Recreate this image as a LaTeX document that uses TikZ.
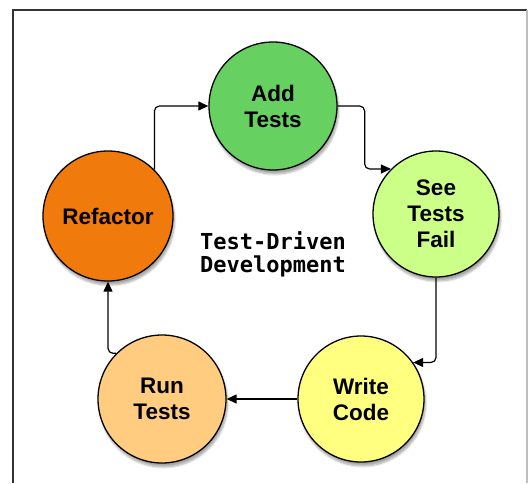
\documentclass[tikz,border=0pt]{standalone}
\usepackage{fontspec}
\setmainfont{Liberation Sans}
\setmonofont{DejaVu Sans Mono}
\usetikzlibrary{arrows.meta,shadows.blur}
\definecolor{addc}{RGB}{102,208,96}
\definecolor{failc}{RGB}{204,255,136}
\definecolor{refc}{RGB}{240,122,12}
\definecolor{writec}{RGB}{255,255,128}
\definecolor{runc}{RGB}{255,204,128}
\tikzset{
  stepcircle/.style={circle, draw=black, line width=1.3pt, align=center,
    font=\fontsize{22.5}{26}\selectfont\bfseries, inner sep=0pt,
    blur shadow={shadow blur steps=6, shadow xshift=1.5pt, shadow yshift=-4pt, shadow opacity=35}},
  arr/.style={-{Triangle[length=10pt,width=9pt]}, line width=1.2pt, rounded corners=5pt},
  frame/.style={line width=1.5pt}
}
\begin{document}
\begin{tikzpicture}[x=1pt,y=-1pt]
\useasboundingbox (0,0) rectangle (528,483);
\draw[frame, black!80] (13,483) -- (13,10) -- (527,10);
\draw[frame, black!25] (527,10) -- (527,483);
\node[stepcircle, fill=addc, minimum size=128pt] (add) at (273,106) {Add\\Tests};
\node[stepcircle, fill=failc, minimum size=126pt] (fail) at (436,214) {See\\Tests\\Fail};
\node[stepcircle, fill=writec, minimum size=126pt] (write) at (361,399) {Write\\Code};
\node[stepcircle, fill=runc, minimum size=128pt] (run) at (162,399) {Run\\Tests};
\node[stepcircle, fill=refc, minimum size=130pt] (ref) at (108,216) {Refactor};
\node[font=\fontsize{22}{23}\selectfont\ttfamily\bfseries, align=left] (title) at (273,254) {Test-Driven\\Development};
\draw[arr] (ref.45) |- (add.west);
\draw[arr] (add.east) -- ++(27,0) |- (fail.135);
\draw[arr] (fail.south) |- (write.35);
\draw[arr] (write.west) -- (run.east);
\draw[arr] (run.135) -| (ref.south);
\end{tikzpicture}
\end{document}
